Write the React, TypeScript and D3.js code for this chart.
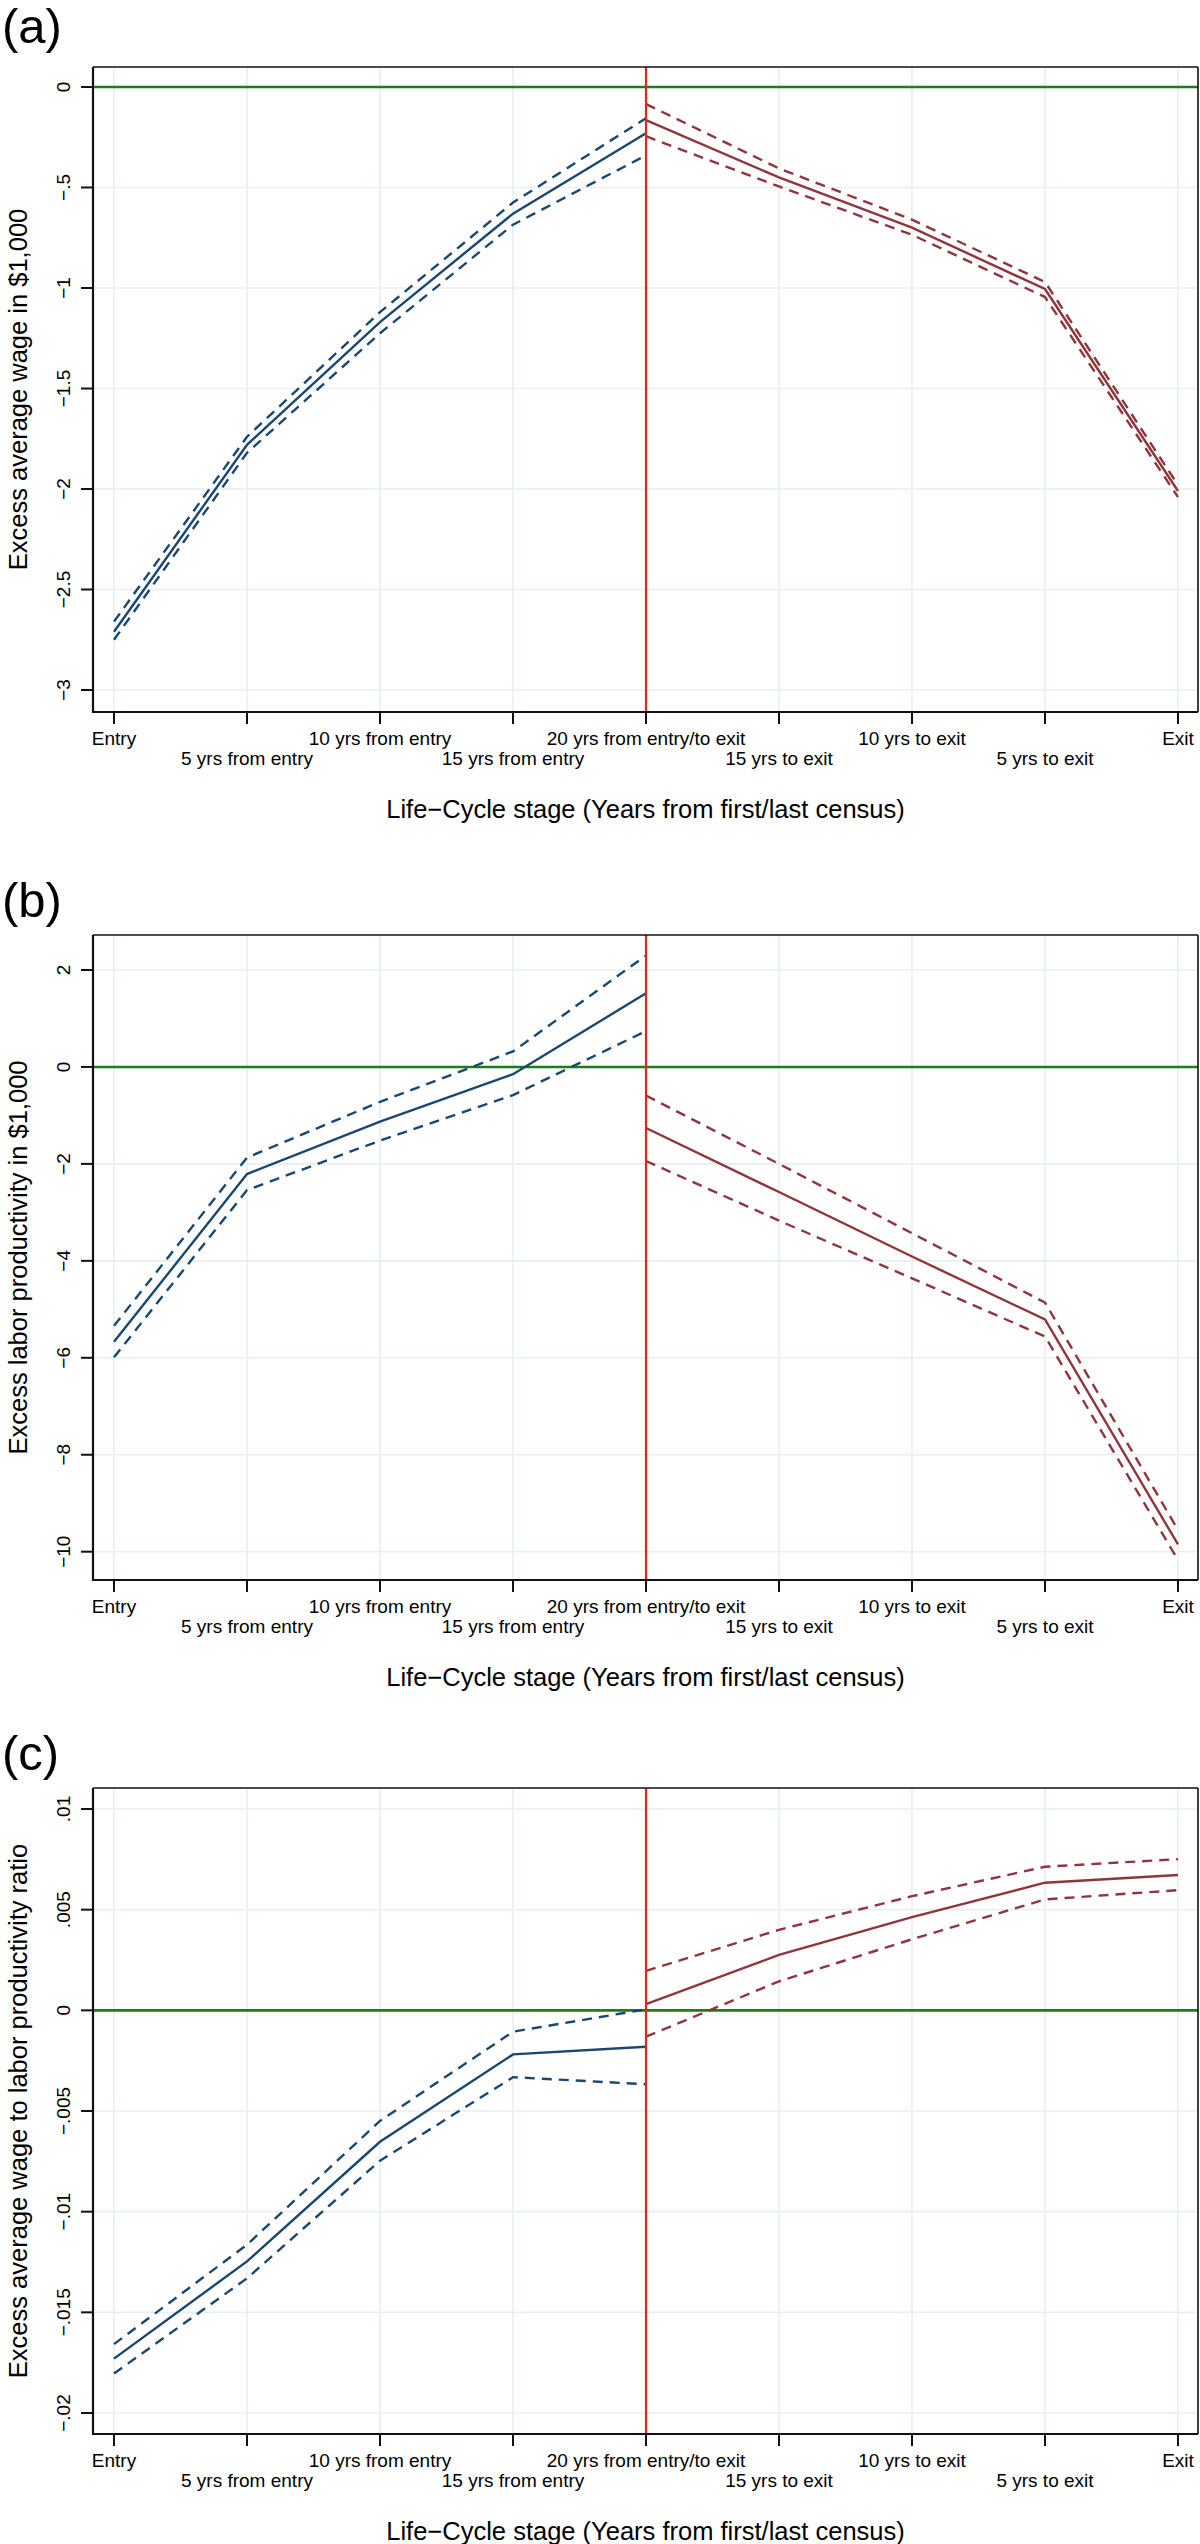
import React, { useEffect } from "react";
import * as d3 from "d3";

const categories = [
  "Entry",
  "5 yrs from entry",
  "10 yrs from entry",
  "15 yrs from entry",
  "20 yrs from entry/to exit",
  "15 yrs to exit",
  "10 yrs to exit",
  "5 yrs to exit",
  "Exit",
];
const entryIdx = [0, 1, 2, 3, 4];
const exitIdx = [4, 5, 6, 7, 8];

// Panel (a): excess average wage
const wageEntry = [-2.71, -1.78, -1.17, -0.63, -0.23];
const wageEntryUpper = [-2.66, -1.74, -1.12, -0.575, -0.155];
const wageEntryLower = [-2.75, -1.82, -1.225, -0.685, -0.34];
const wageExit = [-0.165, -0.45, -0.7, -1.005, -2.01];
const wageExitUpper = [-0.085, -0.405, -0.66, -0.97, -1.98];
const wageExitLower = [-0.245, -0.495, -0.735, -1.045, -2.04];
const wageTicks = [0, -0.5, -1, -1.5, -2, -2.5, -3];
const wageTickLabels = ["0", "\u2212.5", "\u22121", "\u22121.5", "\u22122", "\u22122.5", "\u22123"];

// Panel (b): excess labor productivity
const prodEntry = [-5.67, -2.21, -1.13, -0.15, 1.52];
const prodEntryUpper = [-5.34, -1.87, -0.72, 0.32, 2.3];
const prodEntryLower = [-5.99, -2.54, -1.52, -0.58, 0.74];
const prodExit = [-1.26, -2.58, -3.91, -5.21, -9.85];
const prodExitUpper = [-0.59, -2.0, -3.43, -4.86, -9.55];
const prodExitLower = [-1.94, -3.17, -4.36, -5.56, -10.17];
const prodTicks = [2, 0, -2, -4, -6, -8, -10];
const prodTickLabels = ["2", "0", "\u22122", "\u22124", "\u22126", "\u22128", "\u221210"];

// Panel (c): excess wage to productivity ratio
const ratioEntry = [-0.0173, -0.01247, -0.00653, -0.00219, -0.00181];
const ratioEntryUpper = [-0.01658, -0.01164, -0.00549, -0.00106, 0.00005];
const ratioEntryLower = [-0.01804, -0.01331, -0.00747, -0.00332, -0.00367];
const ratioExit = [0.00031, 0.00275, 0.00463, 0.00634, 0.00672];
const ratioExitUpper = [0.00196, 0.004, 0.00567, 0.00713, 0.00751];
const ratioExitLower = [-0.00131, 0.00144, 0.00353, 0.00551, 0.00597];
const ratioTicks = [0.01, 0.005, 0, -0.005, -0.01, -0.015, -0.02];
const ratioTickLabels = [".01", ".005", "0", "\u2212.005", "\u2212.01", "\u2212.015", "\u2212.02"];

const FONT = "'Liberation Sans', Arial, Helvetica, sans-serif";
const NAVY = "#1a476f";
const MAROON = "#90353b";
const GREEN = "#1b7d1b";
const RED = "#e8231f";
const GRID = "#e7eff1";

const FRAME_LEFT = 93;
const FRAME_RIGHT = 1198;
const X_FIRST = 114;
const X_LAST = 1178;

type PanelProps = {
  label: string;
  labelBaseline: number;
  top: number;
  bottom: number;
  yDomain: [number, number];
  yRange: [number, number];
  ticks: number[];
  tickLabels: string[];
  yTitle: string;
  entry: number[];
  entryUp: number[];
  entryLo: number[];
  exit: number[];
  exitUp: number[];
  exitLo: number[];
};

function Panel(p: PanelProps) {
  const x = d3.scalePoint<string>().domain(categories).range([X_FIRST, X_LAST]);
  const y = d3.scaleLinear().domain(p.yDomain).range(p.yRange);
  const mk = (idx: number[]) =>
    d3
      .line<number>()
      .x((_, i) => x(categories[idx[i]]) as number)
      .y((d) => y(d));
  const entryLine = mk(entryIdx);
  const exitLine = mk(exitIdx);
  const midY = (p.top + p.bottom) / 2;
  const midX = (FRAME_LEFT + FRAME_RIGHT) / 2;
  const redX = x(categories[4]) as number;
  return (
    <g>
      <text x={2} y={p.labelBaseline} fontSize={49} fontFamily={FONT} fill="#000">
        {p.label}
      </text>
      {categories.map((c) => (
        <line key={"gx" + c} x1={x(c)} x2={x(c)} y1={p.top} y2={p.bottom} stroke={GRID} strokeWidth={1.6} />
      ))}
      {p.ticks.map((t) => (
        <line key={"gy" + t} x1={FRAME_LEFT} x2={FRAME_RIGHT} y1={y(t)} y2={y(t)} stroke={GRID} strokeWidth={1.6} />
      ))}
      <line x1={FRAME_LEFT} x2={FRAME_RIGHT} y1={y(0)} y2={y(0)} stroke={GREEN} strokeWidth={2.6} />
      <path d={entryLine(p.entryUp) || ""} fill="none" stroke={NAVY} strokeWidth={2.4} strokeDasharray="10,7" />
      <path d={entryLine(p.entryLo) || ""} fill="none" stroke={NAVY} strokeWidth={2.4} strokeDasharray="10,7" />
      <path d={entryLine(p.entry) || ""} fill="none" stroke={NAVY} strokeWidth={2.4} />
      <path d={exitLine(p.exitUp) || ""} fill="none" stroke={MAROON} strokeWidth={2.4} strokeDasharray="10,7" />
      <path d={exitLine(p.exitLo) || ""} fill="none" stroke={MAROON} strokeWidth={2.4} strokeDasharray="10,7" />
      <path d={exitLine(p.exit) || ""} fill="none" stroke={MAROON} strokeWidth={2.4} />
      <line x1={redX} x2={redX} y1={p.top} y2={p.bottom} stroke={RED} strokeWidth={2.2} />
      <line x1={FRAME_LEFT} x2={FRAME_RIGHT} y1={p.top} y2={p.top} stroke="#111" strokeWidth={1.6} />
      <line x1={FRAME_RIGHT} x2={FRAME_RIGHT} y1={p.top} y2={p.bottom} stroke="#111" strokeWidth={1.6} />
      <line x1={FRAME_LEFT} x2={FRAME_LEFT} y1={p.top} y2={p.bottom + 1} stroke="#111" strokeWidth={2.2} />
      <line x1={FRAME_LEFT - 1} x2={FRAME_RIGHT} y1={p.bottom} y2={p.bottom} stroke="#111" strokeWidth={2.2} />
      {p.ticks.map((t, i) => (
        <g key={"yt" + t}>
          <line x1={FRAME_LEFT - 12} x2={FRAME_LEFT} y1={y(t)} y2={y(t)} stroke="#111" strokeWidth={2} />
          <text
            transform={`translate(63,${y(t)}) rotate(-90)`}
            textAnchor="middle"
            dominantBaseline="central"
            fontSize={19}
            fontFamily={FONT}
            fill="#000"
          >
            {p.tickLabels[i]}
          </text>
        </g>
      ))}
      {categories.map((c, i) => (
        <g key={"xt" + c}>
          <line x1={x(c)} x2={x(c)} y1={p.bottom} y2={p.bottom + 12} stroke="#111" strokeWidth={2} />
          <text
            x={x(c)}
            y={p.bottom + (i % 2 === 0 ? 26 : 46)}
            textAnchor="middle"
            dominantBaseline="central"
            fontSize={19}
            fontFamily={FONT}
            fill="#000"
          >
            {c}
          </text>
        </g>
      ))}
      <text
        x={midX}
        y={p.bottom + 97}
        textAnchor="middle"
        dominantBaseline="central"
        fontSize={25.5}
        fontFamily={FONT}
        fill="#000"
      >
        Life{"\u2212"}Cycle stage (Years from first/last census)
      </text>
      <text
        transform={`translate(18,${midY}) rotate(-90)`}
        textAnchor="middle"
        dominantBaseline="central"
        fontSize={25.5}
        fontFamily={FONT}
        fill="#000"
      >
        {p.yTitle}
      </text>
    </g>
  );
}

export default function App() {
  useEffect(() => {
    document.body.style.margin = "0";
  }, []);
  return (
    <svg
      width={1200}
      height={2544}
      viewBox="0 0 1200 2544"
      style={{ position: "absolute", left: 0, top: 0, background: "#fff" }}
    >
      <rect x={0} y={0} width={1200} height={2544} fill="#fff" />
      <Panel
        label="(a)"
        labelBaseline={43}
        top={67}
        bottom={712}
        yDomain={[-3, 0]}
        yRange={[690, 87]}
        ticks={wageTicks}
        tickLabels={wageTickLabels}
        yTitle="Excess average wage in $1,000"
        entry={wageEntry}
        entryUp={wageEntryUpper}
        entryLo={wageEntryLower}
        exit={wageExit}
        exitUp={wageExitUpper}
        exitLo={wageExitLower}
      />
      <Panel
        label="(b)"
        labelBaseline={917}
        top={935}
        bottom={1580}
        yDomain={[-10, 2]}
        yRange={[1551.7, 970]}
        ticks={prodTicks}
        tickLabels={prodTickLabels}
        yTitle="Excess labor productivity in $1,000"
        entry={prodEntry}
        entryUp={prodEntryUpper}
        entryLo={prodEntryLower}
        exit={prodExit}
        exitUp={prodExitUpper}
        exitLo={prodExitLower}
      />
      <Panel
        label="(c)"
        labelBaseline={1770}
        top={1788}
        bottom={2434}
        yDomain={[-0.02, 0.01]}
        yRange={[2413, 1809]}
        ticks={ratioTicks}
        tickLabels={ratioTickLabels}
        yTitle="Excess average wage to labor productivity ratio"
        entry={ratioEntry}
        entryUp={ratioEntryUpper}
        entryLo={ratioEntryLower}
        exit={ratioExit}
        exitUp={ratioExitUpper}
        exitLo={ratioExitLower}
      />
    </svg>
  );
}
